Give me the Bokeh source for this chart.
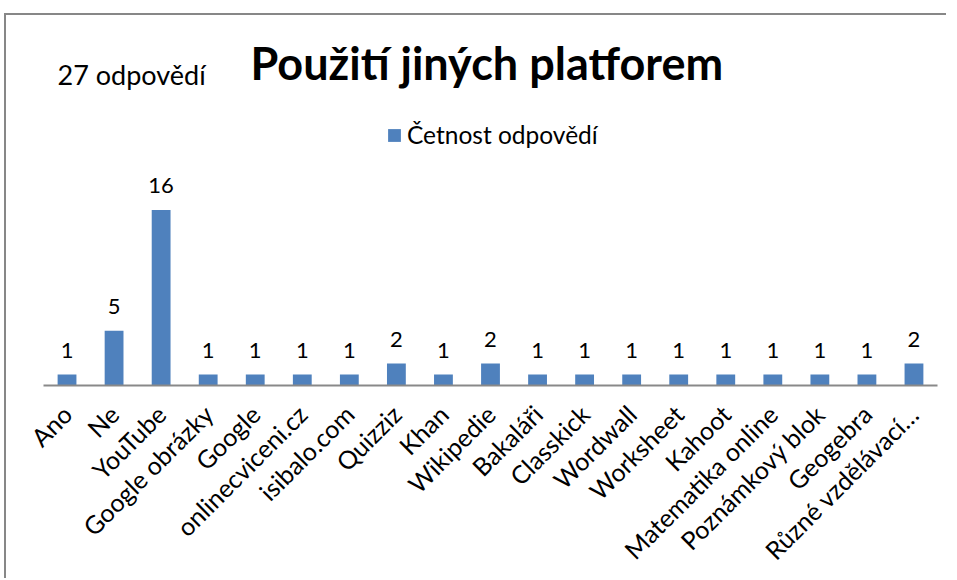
import math
from bokeh.plotting import figure
from bokeh.layouts import column
from bokeh.models import FactorRange, Range1d, ColumnDataSource, LabelSet, Label
from bokeh.core.properties import value
from bokeh.embed import file_html
from bokeh.resources import INLINE

categories = ["Ano", "Ne", "YouTube", "Google obrázky", "Google", "onlinecviceni.cz",
              "isibalo.com", "Quizziz", "Khan", "Wikipedie", "Bakaláři", "Classkick",
              "Wordwall", "Worksheet", "Kahoot", "Matematika online", "Poznámkový blok",
              "Geogebra", "Různé vzdělávací…"]
values = [1, 5, 16, 1, 1, 1, 1, 2, 1, 2, 1, 1, 1, 1, 1, 1, 1, 1, 2]
series_name = "Četnost odpovědí"
title_text = "Použití jiných platforem"
count_text = "27 odpovědí"

FONT = "Lato"
BLUE = "#4F81BD"

src = ColumnDataSource(dict(cat=categories, val=values, lab=[str(v) for v in values]))

p = figure(x_range=FactorRange(*categories, range_padding=0), y_range=Range1d(0, 33.27),
           width=940, height=563, output_backend="svg", toolbar_location=None,
           min_border_left=37, min_border_right=9, min_border_top=5, min_border_bottom=192)

p.vbar(x="cat", top="val", width=0.4, source=src, fill_color=BLUE, line_color=None,
       legend_label=series_name)

p.add_layout(LabelSet(x="cat", y="val", text="lab", source=src, y_offset=17,
                      text_align="center", text_baseline="alphabetic",
                      text_font=value(FONT), text_font_size="22px", text_color="black"))

p.xgrid.visible = False
p.ygrid.visible = False
p.yaxis.visible = False
p.outline_line_color = None

ax = p.xaxis[0]
ax.axis_line_color = "#898989"
ax.axis_line_width = 2
ax.major_tick_line_color = None
ax.minor_tick_line_color = None
ax.major_label_orientation = math.pi / 4
ax.major_label_text_font = FONT
ax.major_label_text_font_size = "25px"
ax.major_label_text_color = "black"
ax.major_label_standoff = 18

p.add_layout(Label(x=207, y=323, x_units="screen", y_units="screen", text=title_text,
                   text_font=FONT, text_font_style="bold", text_font_size="45px",
                   text_baseline="alphabetic", text_color="black"))
p.add_layout(Label(x=14, y=311, x_units="screen", y_units="screen", text=count_text,
                   text_font=FONT, text_font_size="27px",
                   text_baseline="alphabetic", text_color="black"))

lg = p.legend[0]
lg.location = (343, 236)
lg.border_line_color = None
lg.background_fill_alpha = 0
lg.glyph_width = 16
lg.glyph_height = 16
lg.label_standoff = 5
lg.padding = 0
lg.margin = 0
lg.label_text_font = FONT
lg.label_text_font_size = "24.5px"
lg.label_text_color = "black"

layout = column(p)
layout.styles = {"margin-left": "4px", "margin-top": "13px", "overflow": "hidden",
                 "border-top": "2px solid #878787", "border-left": "2px solid #878787"}

open("out.html", "w").write(file_html(layout, INLINE))
